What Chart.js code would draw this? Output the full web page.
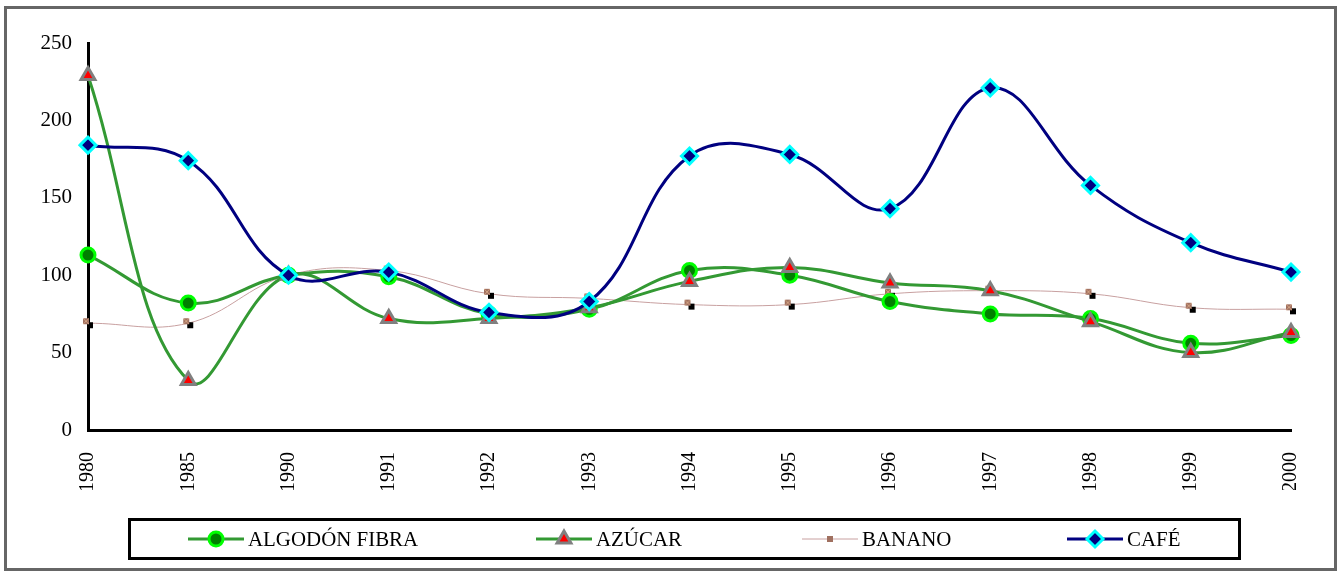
<!DOCTYPE html>
<html>
<head>
<meta charset="utf-8">
<script src="https://cdn.jsdelivr.net/npm/chart.js@4/dist/chart.umd.min.js"></script>
<style>
  html, body { margin: 0; padding: 0; background: #fff; }
  #wrap { position: relative; width: 1341px; height: 574px; }
  #frame {
    position: absolute; left: 4px; top: 6px; width: 1327px; height: 559px;
    border: 3px solid #666;
  }
  #c { position: absolute; left: 0; top: 0; }
</style>
</head>
<body>
<div id="wrap">
  <div id="frame"></div>
  <canvas id="c" width="1341" height="574"></canvas>
</div>
<script>
const YEARS = ['1980', '1985', '1990', '1991', '1992', '1993', '1994', '1995', '1996', '1997', '1998', '1999', '2000'];

const ALGODON = [113, 82, 100, 99, 75, 78, 103, 100, 83, 75, 72, 56, 61];
const AZUCAR  = [229, 32, 100, 72, 72, 79, 96, 105, 95, 90, 70, 50, 63];
const BANANO  = [69, 69, 100, 103, 88, 85, 81, 81, 88, 90, 88, 79, 78];
const CAFE    = [184, 174, 100, 102, 76, 83, 177, 178, 143, 221, 158, 121, 102];

const Y_TICKS = [0, 50, 100, 150, 200, 250];

const FONT = '"Liberation Serif", "DejaVu Serif", serif';

// marcador del banano: cuadrito café con sombra negra
function bananoMarker() {
  const cv = document.createElement('canvas');
  cv.width = 12; cv.height = 12;
  const g = cv.getContext('2d');
  g.fillStyle = '#000';
  g.fillRect(5, 5, 6, 6);
  g.fillStyle = '#a07060';
  g.fillRect(1, 1, 6, 6);
  g.strokeStyle = '#d0a080';
  g.lineWidth = 1;
  g.beginPath();
  g.moveTo(1, 1); g.lineTo(7, 7);
  g.moveTo(7, 1); g.lineTo(1, 7);
  g.stroke();
  return cv;
}

function bananoLegendMarker() {
  const cv = document.createElement('canvas');
  cv.width = 8; cv.height = 8;
  const g = cv.getContext('2d');
  g.fillStyle = '#a07060';
  g.fillRect(1, 1, 6, 6);
  return cv;
}

const bananoPt = bananoMarker();
const bananoLegendPt = bananoLegendMarker();

const datasets = [
  {
    label: 'ALGODÓN FIBRA',
    data: ALGODON,
    borderColor: '#339933',
    borderWidth: 3,
    pointStyle: 'circle',
    pointRadius: 7,
    pointBackgroundColor: '#008000',
    pointBorderColor: '#00ff00',
    pointBorderWidth: 3,
    order: 3,
  },
  {
    label: 'AZÚCAR',
    data: AZUCAR,
    borderColor: '#339933',
    borderWidth: 3,
    pointStyle: 'triangle',
    pointRadius: 8,
    pointBackgroundColor: '#ff0000',
    pointBorderColor: '#808080',
    pointBorderWidth: 3,
    order: 2,
  },
  {
    label: 'BANANO',
    data: BANANO,
    borderColor: '#c8a0a0',
    borderWidth: 1,
    pointStyle: bananoPt,
    pointRadius: 5,
    order: 4,
  },
  {
    label: 'CAFÉ',
    data: CAFE,
    borderColor: '#000080',
    borderWidth: 3,
    pointStyle: 'rectRot',
    pointRadius: 8,
    pointBackgroundColor: '#000080',
    pointBorderColor: '#00ffff',
    pointBorderWidth: 3,
    order: 1,
  },
];

// leyenda enmarcada dibujada en el canvas
const LEGEND_X = [188, 536, 802, 1067];

const boxLegend = {
  id: 'boxLegend',
  afterDraw(chart) {
    const ctx = chart.ctx;
    ctx.save();
    ctx.strokeStyle = '#000';
    ctx.lineWidth = 3;
    ctx.strokeRect(129.5, 519.5, 1110, 39);
    ctx.textBaseline = 'middle';
    const cy = 539;
    chart.data.datasets.forEach((ds, i) => {
      const x0 = LEGEND_X[i];
      ctx.strokeStyle = ds.borderColor;
      ctx.lineWidth = ds.borderWidth;
      ctx.beginPath();
      ctx.moveTo(x0, cy);
      ctx.lineTo(x0 + 56, cy);
      ctx.stroke();
      ctx.fillStyle = ds.pointBackgroundColor || '#000';
      ctx.strokeStyle = ds.pointBorderColor || '#000';
      ctx.lineWidth = ds.pointBorderWidth || 1;
      const style = ds.pointStyle === bananoPt ? bananoLegendPt : ds.pointStyle;
      Chart.helpers.drawPoint(ctx, {
        pointStyle: style,
        radius: ds.pointRadius,
        borderWidth: ds.pointBorderWidth || 1,
        rotation: 0,
      }, x0 + 28, cy);
      ctx.save();
      ctx.translate(x0 + 60, cy + 1);
      ctx.scale(0.95, 1);
      ctx.font = '22px ' + FONT;
      ctx.fillStyle = '#000';
      ctx.fillText(ds.label, 0, 0);
      ctx.restore();
    });
    ctx.restore();
  },
};

new Chart(document.getElementById('c'), {
  type: 'line',
  data: { labels: YEARS, datasets },
  options: {
    responsive: false,
    animation: false,
    layout: { padding: { left: 10, top: 43, right: 50, bottom: 84 } },
    elements: { line: { tension: 0.4 } },
    plugins: {
      legend: { display: false },
      tooltip: { enabled: false },
    },
    scales: {
      x: {
        offset: false,
        grid: { display: false, drawTicks: false },
        border: { color: '#000', width: 3 },
        ticks: {
          color: '#000',
          font: { family: FONT, size: 20 },
          minRotation: 90,
          maxRotation: 90,
          padding: 22,
          autoSkip: false,
        },
        afterFit(scale) { scale.height = 60; },
      },
      y: {
        min: 0,
        max: 250,
        afterBuildTicks(scale) { scale.ticks = Y_TICKS.map((v) => ({ value: v })); },
        grid: { display: false, drawTicks: false },
        border: { color: '#000', width: 3 },
        ticks: {
          color: '#000',
          font: { family: FONT, size: 21 },
          padding: 16,
        },
        afterFit(scale) { scale.width = 78; },
      },
    },
  },
  plugins: [boxLegend],
});
</script>
</body>
</html>
